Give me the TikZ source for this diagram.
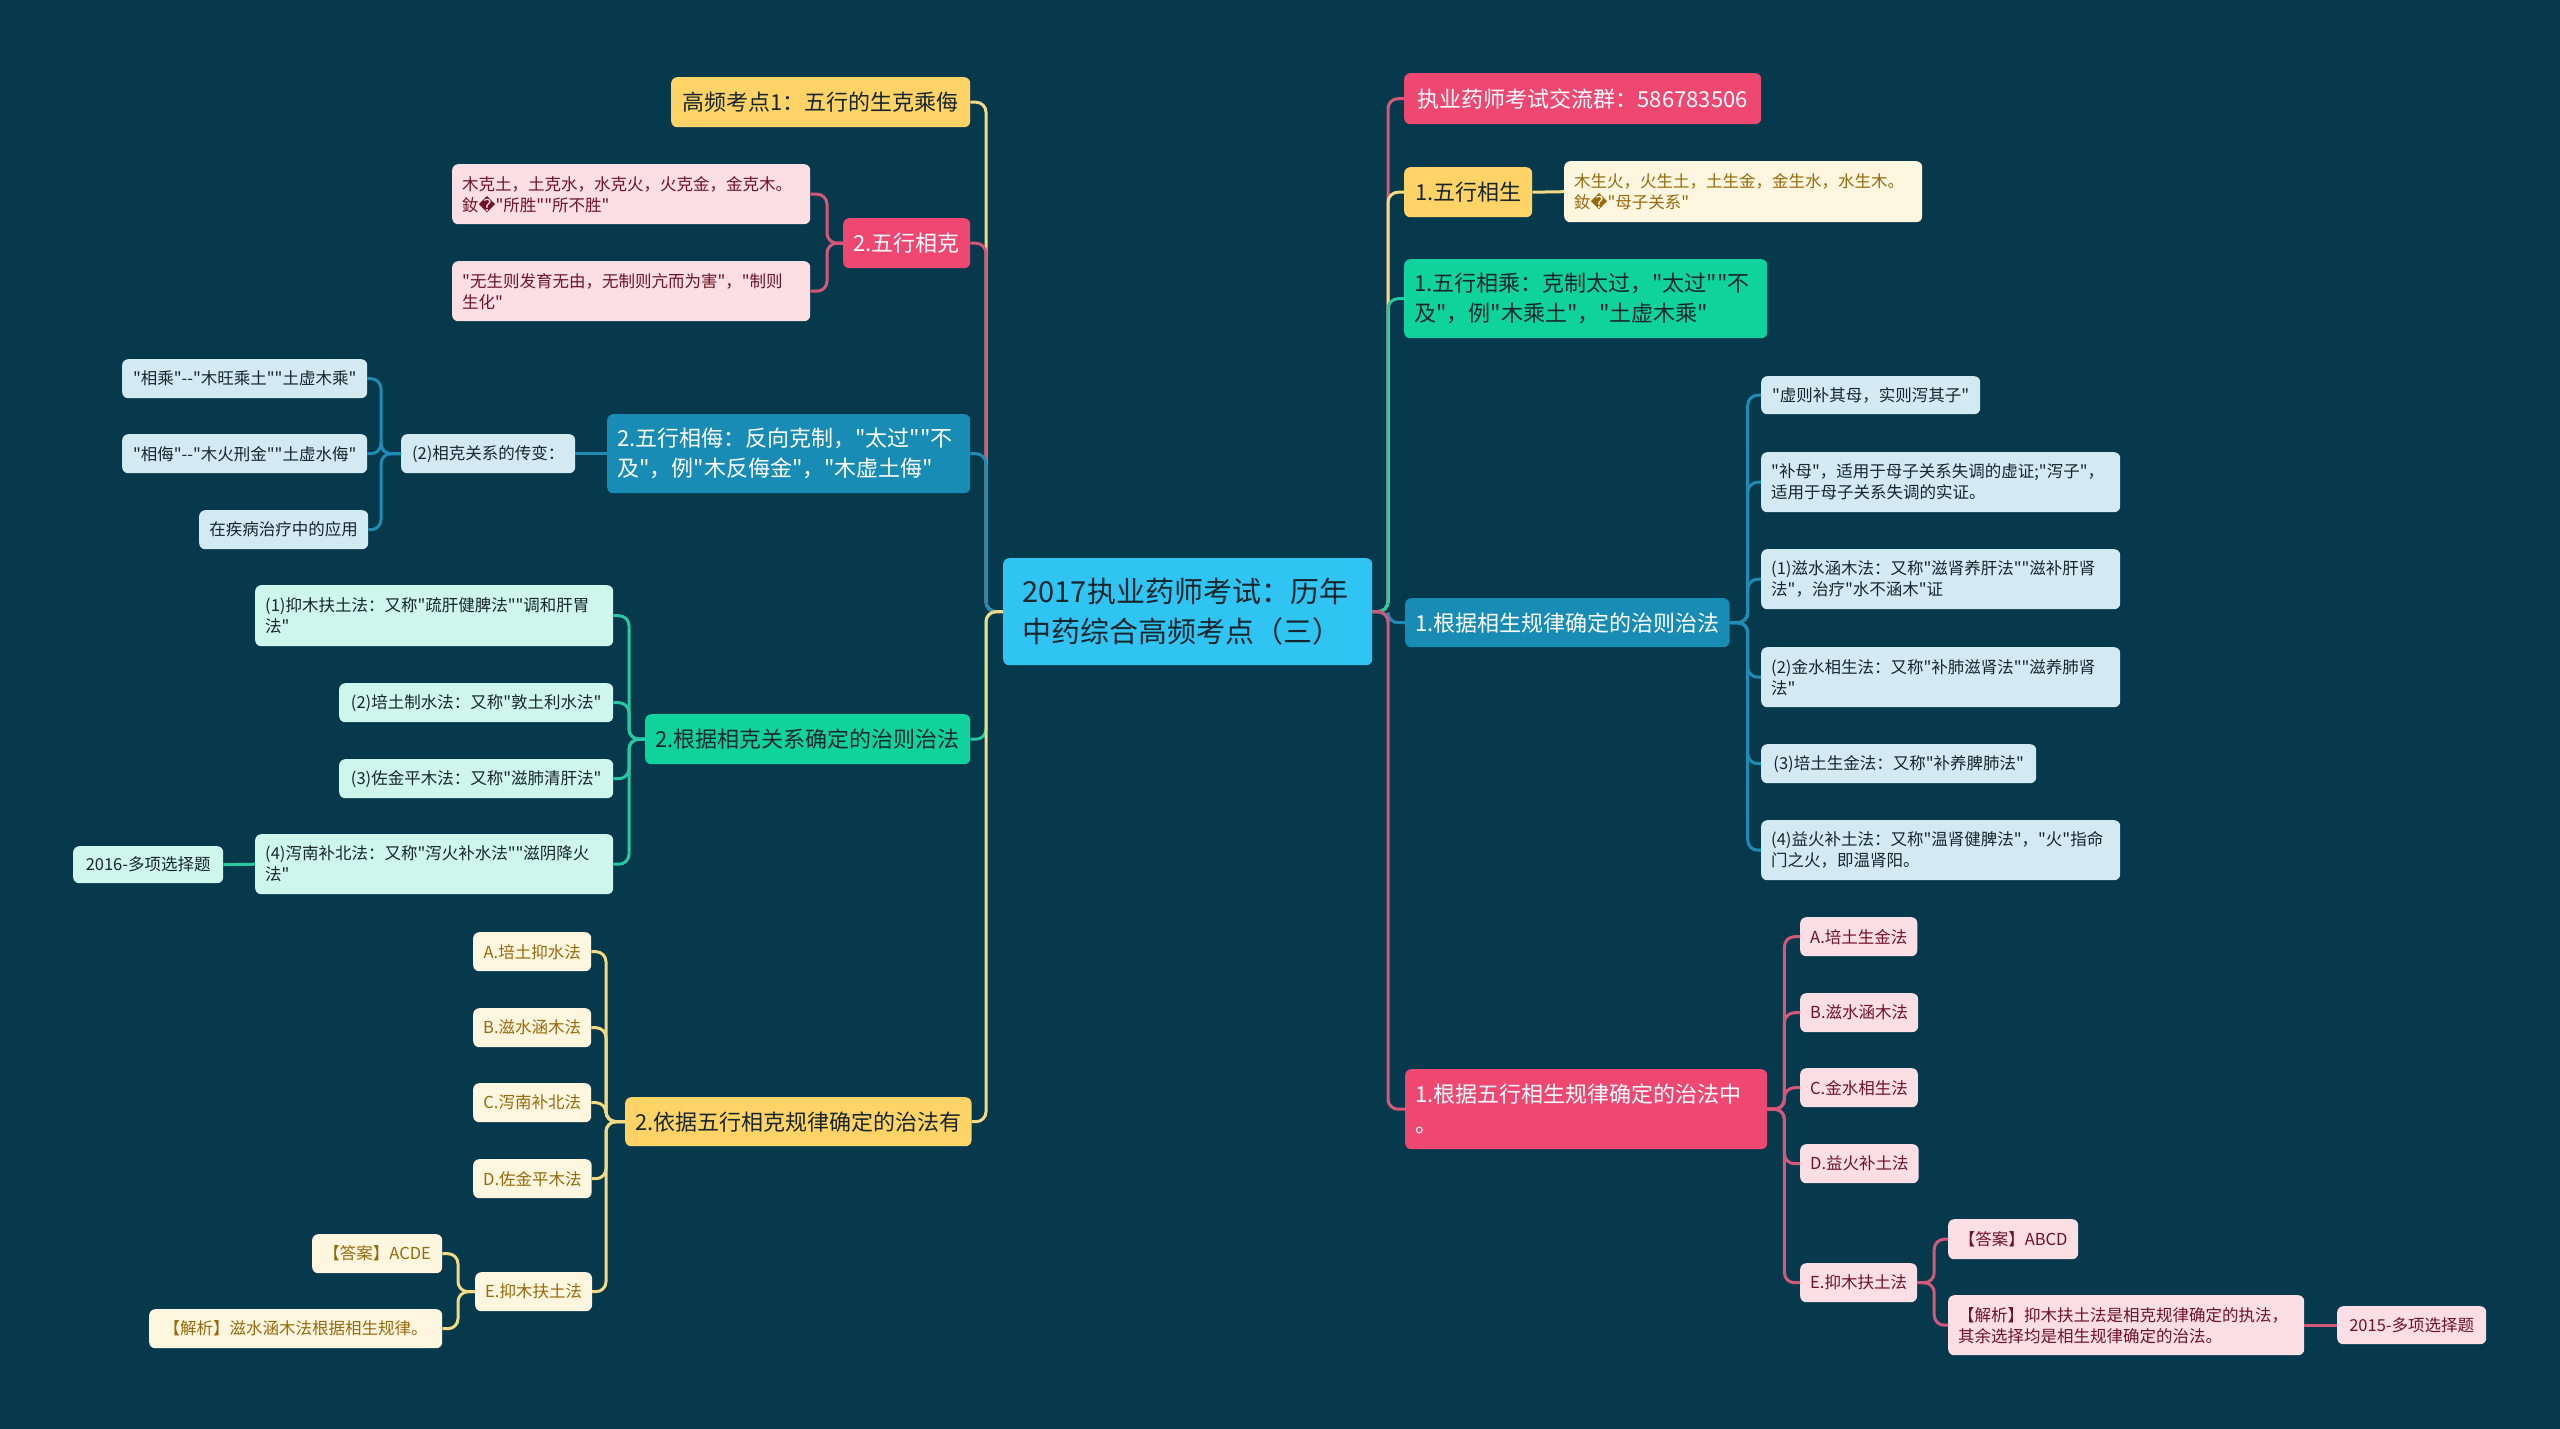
\documentclass[tikz,border=0pt]{standalone}
\usepackage{fontspec}
\newfontfamily\cjk{Noto Sans CJK SC}
\newfontfamily\repfont{DejaVu Sans}

\definecolor{bgcol}{RGB}{7,57,77}
\definecolor{rootcol}{RGB}{47,196,242}
\definecolor{pinkmain}{RGB}{238,72,114}
\definecolor{pinkleafcol}{RGB}{252,222,229}
\definecolor{pinktext}{RGB}{110,18,40}
\definecolor{pinkline}{RGB}{214,88,120}
\definecolor{yellowmain}{RGB}{255,211,101}
\definecolor{yellowleafcol}{RGB}{255,246,224}
\definecolor{yellowtext}{RGB}{150,105,10}
\definecolor{yellowline}{RGB}{244,218,130}
\definecolor{greenmain}{RGB}{15,210,156}
\definecolor{greenleafcol}{RGB}{206,246,236}
\definecolor{greenline}{RGB}{40,200,160}
\definecolor{bluemain}{RGB}{25,140,182}
\definecolor{blueleafcol}{RGB}{212,234,242}
\definecolor{blueline}{RGB}{30,140,180}
\definecolor{darktext}{RGB}{22,38,44}

\usetikzlibrary{calc}

\tikzset{
	box/.style={rounded corners=6pt, inner xsep=10pt, inner ysep=0pt, anchor=north west, align=left},
	leaf/.style={box, minimum height=39pt, font=\cjk\fontsize{16.5}{21}\selectfont},
	branch/.style={box, minimum height=50pt, font=\cjk\fontsize{22}{30}\selectfont},
	rootbox/.style={box, fill=rootcol, text=darktext, inner xsep=19.5pt, font=\cjk\fontsize{29}{40}\selectfont},
	pinkbranch/.style={branch, fill=pinkmain, text=white},
	yellowbranch/.style={branch, fill=yellowmain, text=darktext},
	greenbranch/.style={branch, fill=greenmain, text=darktext},
	bluebranch/.style={branch, fill=bluemain, text=white},
	pinkleaf/.style={leaf, fill=pinkleafcol, text=pinktext},
	yellowleaf/.style={leaf, fill=yellowleafcol, text=yellowtext},
	greenleaf/.style={leaf, fill=greenleafcol, text=darktext},
	blueleaf/.style={leaf, fill=blueleafcol, text=darktext},
	link/.style={line width=3pt, rounded corners=10pt},
	pinklink/.style={link, draw=pinkline},
	yellowlink/.style={link, draw=yellowline},
	greenlink/.style={link, draw=greenline},
	bluelink/.style={link, draw=blueline},
}

\begin{document}
\begin{tikzpicture}[x=1pt,y=-1pt]
			%%%%% START %%%%%
			
			\fill[bgcol] (0,0) rectangle (2560,1429);
			\useasboundingbox (0,0) rectangle (2560,1429);
			
			\node[rootbox, minimum width=369pt, minimum height=107pt, text width=330pt] (root) at (1003,558) {2017执业药师考试：历年\\中药综合高频考点（三）};
			
			\coordinate (sL) at (986,0);
			\coordinate (sR) at (1388,0);
			
			% left side
			\node[yellowbranch, minimum width=299pt] (gaopin) at (671,77) {高频考点1：五行的生克乘侮};
			
			\node[pinkbranch, minimum width=127pt] (xiangke) at (843,218) {2.五行相克};
			\node[pinkleaf, minimum height=60pt, text width=338pt] (keA) at (452,164) {木克土，土克水，水克火，火克金，金克木。\\釹{\repfont �}"所胜""所不胜"};
			\node[pinkleaf, minimum height=60pt, text width=338pt] (keB) at (452,261) {"无生则发育无由，无制则亢而为害"，"制则\\生化"};
			
			\node[bluebranch, minimum height=79pt, text width=343pt] (xiangwu) at (607,414) {2.五行相侮：反向克制，"太过""不\\及"，例"木反侮金"，"木虚土侮"};
			\node[blueleaf, minimum width=174pt] (chuanbian) at (401,434) {(2)相克关系的传变：};
			\node[blueleaf, minimum width=245pt] (cheng) at (122,359) {"相乘"--"木旺乘土""土虚木乘"};
			\node[blueleaf, minimum width=245pt] (wu) at (122,434) {"相侮"--"木火刑金""土虚水侮"};
			\node[blueleaf, minimum width=169pt] (yingyong) at (199,510) {在疾病治疗中的应用};
			
			\node[greenbranch, minimum width=325pt] (kezhi) at (645,714) {2.根据相克关系确定的治则治法};
			\node[greenleaf, minimum height=61pt, text width=338pt] (kzA) at (255,585) {(1)抑木扶土法：又称"疏肝健脾法""调和肝胃\\法"};
			\node[greenleaf, minimum width=274pt] (kzB) at (339,683) {(2)培土制水法：又称"敦土利水法"};
			\node[greenleaf, minimum width=274pt] (kzC) at (339,759) {(3)佐金平木法：又称"滋肺清肝法"};
			\node[greenleaf, minimum height=60pt, text width=338pt] (kzD) at (255,834) {(4)泻南补北法：又称"泻火补水法""滋阴降火\\法"};
			\node[greenleaf, minimum width=150pt, minimum height=37pt] (ti2016) at (73,846) {2016-多项选择题};
			
			\node[yellowbranch, minimum width=345pt, minimum height=49pt] (kefa) at (625,1097) {2.依据五行相克规律确定的治法有};
			\node[yellowleaf, minimum width=118pt] (kfA) at (473,932) {A.培土抑水法};
			\node[yellowleaf, minimum width=118pt] (kfB) at (473,1008) {B.滋水涵木法};
			\node[yellowleaf, minimum width=118pt] (kfC) at (473,1083) {C.泻南补北法};
			\node[yellowleaf, minimum width=118pt] (kfD) at (473,1159) {D.佐金平木法};
			\node[yellowleaf, minimum width=116pt] (kfE) at (475,1272) {E.抑木扶土法};
			\node[yellowleaf, minimum width=130pt] (kfans) at (312,1234) {【答案】ACDE};
			\node[yellowleaf, minimum width=293pt] (kfjx) at (149,1309) {【解析】滋水涵木法根据相生规律。};
			
			% right side
			\node[pinkbranch, minimum width=357pt, minimum height=51pt] (qun) at (1404,73) {执业药师考试交流群：586783506};
			
			\node[yellowbranch, minimum width=128pt] (xiangsheng) at (1404,167) {1.五行相生};
			\node[yellowleaf, minimum height=61pt, text width=338pt] (shengA) at (1564,161) {木生火，火生土，土生金，金生水，水生木。\\釹{\repfont �}"母子关系"};
			
			\node[greenbranch, minimum height=79pt, text width=343pt] (xiangcheng) at (1404,259) {1.五行相乘：克制太过，"太过""不\\及"，例"木乘土"，"土虚木乘"};
			
			\node[bluebranch, minimum width=323pt, minimum height=49pt] (shengzhi) at (1405,598) {1.根据相生规律确定的治则治法};
			\node[blueleaf, minimum width=219pt, minimum height=38pt] (szA) at (1761,376) {"虚则补其母，实则泻其子"};
			\node[blueleaf, minimum height=60pt, text width=339pt] (szB) at (1761,452) {"补母"，适用于母子关系失调的虚证;"泻子"，\\适用于母子关系失调的实证。};
			\node[blueleaf, minimum height=60pt, text width=339pt] (szC) at (1761,549) {(1)滋水涵木法：又称"滋肾养肝法""滋补肝肾\\法"，治疗"水不涵木"证};
			\node[blueleaf, minimum height=60pt, text width=339pt] (szD) at (1761,647) {(2)金水相生法：又称"补肺滋肾法""滋养肺肾\\法"};
			\node[blueleaf, minimum width=275pt] (szE) at (1761,744) {(3)培土生金法：又称"补养脾肺法"};
			\node[blueleaf, minimum height=60pt, text width=339pt] (szF) at (1761,820) {(4)益火补土法：又称"温肾健脾法"，"火"指命\\门之火，即温肾阳。};
			
			\node[pinkbranch, minimum height=80pt, text width=342pt] (shengfa) at (1405,1069) {1.根据五行相生规律确定的治法中\\。};
			\node[pinkleaf, minimum width=117pt] (sfA) at (1800,917) {A.培土生金法};
			\node[pinkleaf, minimum width=117pt] (sfB) at (1800,993) {B.滋水涵木法};
			\node[pinkleaf, minimum width=117pt] (sfC) at (1800,1068) {C.金水相生法};
			\node[pinkleaf, minimum width=117pt] (sfD) at (1800,1144) {D.益火补土法};
			\node[pinkleaf, minimum width=115pt] (sfE) at (1800,1263) {E.抑木扶土法};
			\node[pinkleaf, minimum width=130pt, minimum height=40pt] (sfans) at (1948,1219) {【答案】ABCD};
			\node[pinkleaf, minimum height=60pt, text width=336pt] (sfjx) at (1948,1295) {【解析】抑木扶土法是相克规律确定的执法，\\其余选择均是相生规律确定的治法。};
			\node[pinkleaf, minimum width=149pt, minimum height=38pt] (ti2015) at (2337,1306) {2015-多项选择题};
			
			% connectors from the root
			\draw[yellowlink] (root.west) -- (root.west -| sL) |- (gaopin.east);
			\draw[pinklink] (root.west) -- (root.west -| sL) |- (xiangke.east);
			\draw[bluelink] (root.west) -- (root.west -| sL) |- (xiangwu.east);
			\draw[greenlink] (root.west) -- (root.west -| sL) |- (kezhi.east);
			\draw[yellowlink] (root.west) -- (root.west -| sL) |- (kefa.east);
			
			\draw[pinklink] (root.east) -- (root.east -| sR) |- (qun.west);
			\draw[yellowlink] (root.east) -- (root.east -| sR) |- (xiangsheng.west);
			\draw[greenlink] (root.east) -- (root.east -| sR) |- (xiangcheng.west);
			\draw[bluelink] (root.east) -- (root.east -| sR) |- (shengzhi.west);
			\draw[pinklink] (root.east) -- (root.east -| sR) |- (shengfa.west);
			
			% children
			\foreach \n in {keA,keB}
				\draw[pinklink] (xiangke.west) -- ++(-16,0) |- (\n.east);
			\draw[bluelink] (xiangwu.west) -- (chuanbian.east);
			\foreach \n in {cheng,wu,yingyong}
				\draw[bluelink] (chuanbian.west) -- ++(-20,0) |- (\n.east);
			\foreach \n in {kzA,kzB,kzC,kzD}
				\draw[greenlink] (kezhi.west) -- ++(-16,0) |- (\n.east);
			\draw[greenlink] (kzD.west) -- (ti2016.east);
			\foreach \n in {kfA,kfB,kfC,kfD,kfE}
				\draw[yellowlink] (kefa.west) -- ++(-19,0) |- (\n.east);
			\foreach \n in {kfans,kfjx}
				\draw[yellowlink] (kfE.west) -- ++(-17,0) |- (\n.east);
			
			\draw[yellowlink] (xiangsheng.east) -- (shengA.west);
			\foreach \n in {szA,szB,szC,szD,szE,szF}
				\draw[bluelink] (shengzhi.east) -- ++(18,0) |- (\n.west);
			\foreach \n in {sfA,sfB,sfC,sfD,sfE}
				\draw[pinklink] (shengfa.east) -- ++(17,0) |- (\n.west);
			\foreach \n in {sfans,sfjx}
				\draw[pinklink] (sfE.east) -- ++(17,0) |- (\n.west);
			\draw[pinklink] (sfjx.east) -- (ti2015.west);
			
			%%%%% END %%%%%
\end{tikzpicture}
\end{document}
